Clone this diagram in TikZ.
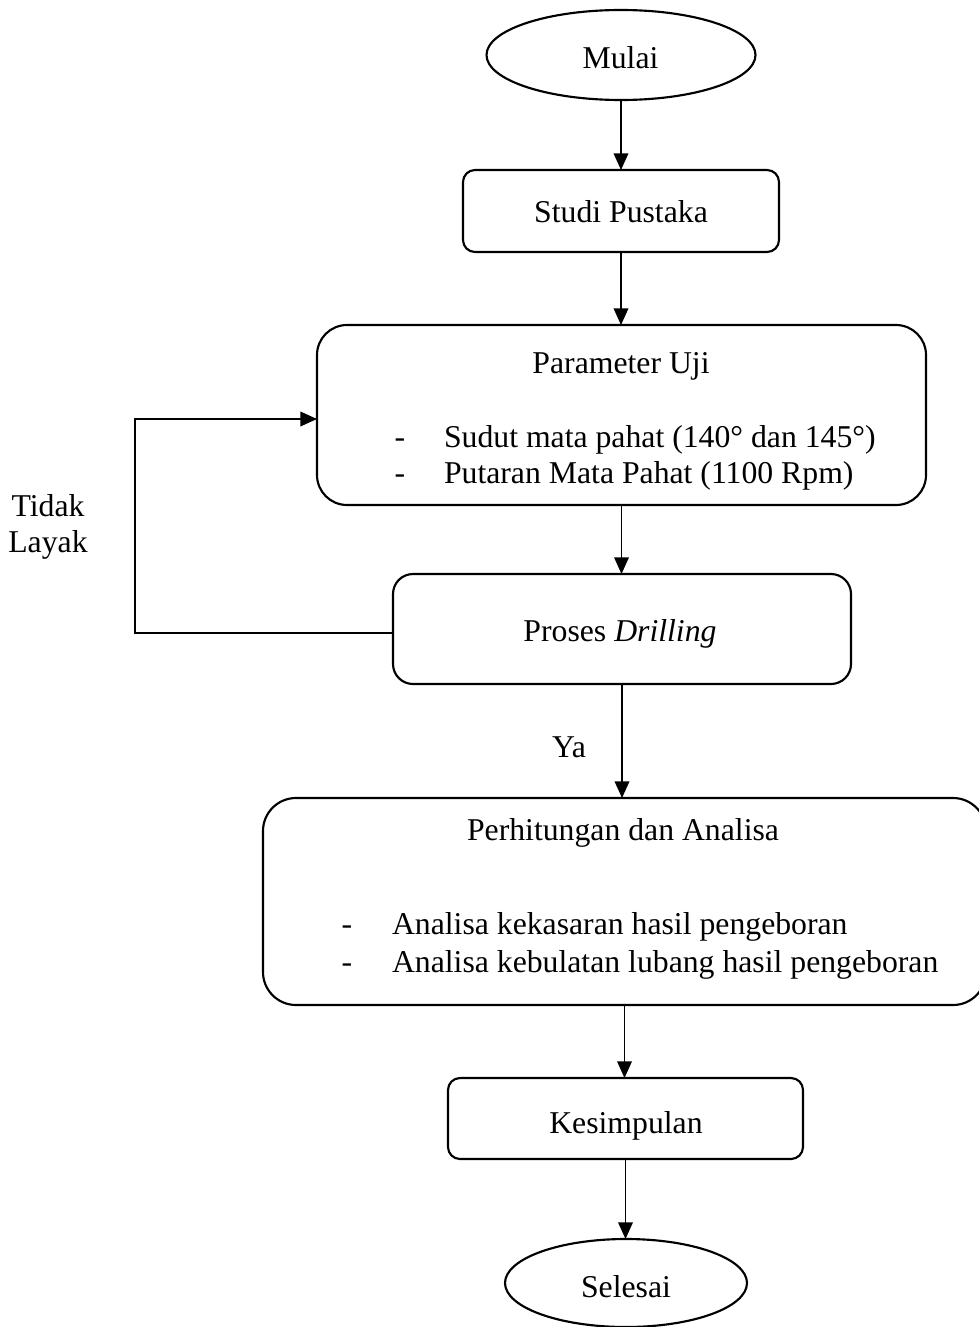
\documentclass[tikz,border=0pt]{standalone}
\usepackage{fontspec}
\setmainfont{Liberation Serif}
\usetikzlibrary{shapes.geometric,arrows.meta}
\begin{document}
\begin{tikzpicture}[x=0.75pt,y=-0.75pt,
  every node/.style={font=\fontsize{23.8}{28}\selectfont, inner sep=0pt, outer sep=0pt},
  term/.style={draw, ellipse, line width=1.6pt},
  procbox/.style={draw, rectangle, line width=1.6pt},
  flow/.style={line width=1.1pt, -{Triangle[length=12.5pt,width=11pt]}},
  txt/.style={anchor=base},
  ltxt/.style={anchor=base west}
]
\useasboundingbox (0,0) rectangle (978,1327);

% shapes
\node[term, minimum width=201.75pt, minimum height=67.5pt] (mulai) at (621,55) {};
\node[procbox, rounded corners=9pt, minimum width=237pt, minimum height=61.5pt] (studi) at (621,211) {};
\node[procbox, rounded corners=22.5pt, minimum width=456.75pt, minimum height=135pt] (param) at (621.5,415) {};
\node[procbox, rounded corners=15pt, minimum width=343.5pt, minimum height=82.5pt] (proses) at (622,629) {};
\node[procbox, rounded corners=24.75pt, minimum width=542.25pt, minimum height=155.25pt] (hitung) at (624.5,901.5) {};
\node[procbox, rounded corners=9pt, minimum width=266.25pt, minimum height=60.75pt] (kesim) at (625.5,1118.5) {};
\node[term, minimum width=181.5pt, minimum height=66pt] (selesai) at (626,1283) {};

% texts
\node[txt] (tMulai) at (620.5,69) {Mulai};
\node[txt] (tStudi) at (621,222) {Studi Pustaka};
\node[txt] (tParam) at (621,373) {Parameter Uji};
\node[txt] (dP1) at (400,447) {-};
\node[ltxt] (tP1) at (444,447) {Sudut mata pahat (140° dan 145°)};
\node[txt] (dP2) at (400,483) {-};
\node[ltxt] (tP2) at (444,483) {Putaran Mata Pahat (1100 Rpm)};
\node[txt] (tProses) at (620,641) {Proses \textit{Drilling}};
\node[txt] (tTidak) at (48,516) {Tidak};
\node[txt] (tLayak) at (48,552) {Layak};
\node[txt] (tYa) at (569,757) {Ya};
\node[txt] (tHitung) at (623,840) {Perhitungan dan Analisa};
\node[txt] (dH1) at (347,934) {-};
\node[ltxt] (tH1) at (392,934) {Analisa kekasaran hasil pengeboran};
\node[txt] (dH2) at (347,972) {-};
\node[ltxt] (tH2) at (392,972) {Analisa kebulatan lubang hasil pengeboran};
\node[txt] (tKesim) at (626,1133) {Kesimpulan};
\node[txt] (tSelesai) at (626,1297) {Selesai};

% connectors
\draw[flow] (mulai.south) -- (mulai.south |- studi.north);
\draw[flow] (studi.south) -- (studi.south |- param.north);
\draw[flow] (param.south) -- (param.south |- proses.north);
\draw[flow] (proses.south) -- (proses.south |- hitung.north);
\draw[flow] (hitung.south) -- (hitung.south |- kesim.north);
\draw[flow] (kesim.south) -- (kesim.south |- selesai.north);
\coordinate (fbA) at (135,633);
\coordinate (fbB) at (135,419);
\draw[flow] (fbA -| proses.west) -- (fbA) -- (fbB) -- (fbB -| param.west);
\end{tikzpicture}
\end{document}
